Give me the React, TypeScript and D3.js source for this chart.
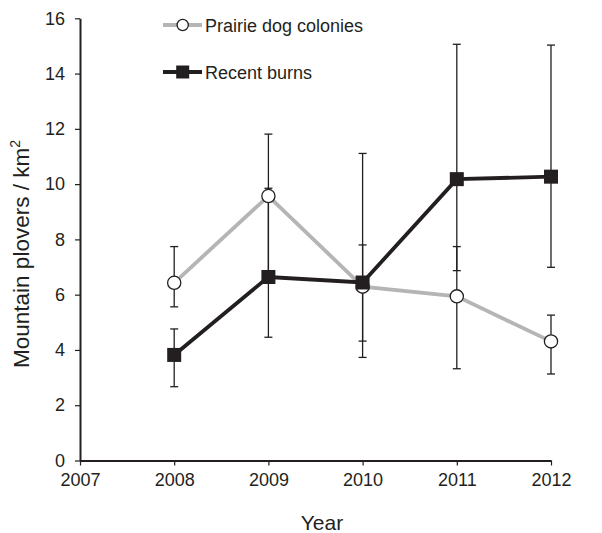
import React, { useEffect, useRef } from "react";
import * as d3 from "d3";

const years = [2008, 2009, 2010, 2011, 2012];
const prairie = [6.43, 9.57, 6.29, 5.94, 4.31];
const prairieUpper = [7.74, 11.81, 7.8, 7.74, 5.26];
const prairieLower = [5.56, 6.7, 4.32, 3.32, 3.13];
const burns = [3.82, 6.64, 6.44, 10.18, 10.27];
const burnsUpper = [4.76, 9.85, 11.11, 15.06, 15.03];
const burnsLower = [2.67, 4.46, 3.73, 6.87, 6.99];
const xTicks = [2007, 2008, 2009, 2010, 2011, 2012];
const yTicks = [0, 2, 4, 6, 8, 10, 12, 14, 16];
const seriesNames = ["Prairie dog colonies", "Recent burns"];

const W = 602;
const H = 533;
const FONT = "Arial, 'Liberation Sans', Helvetica, sans-serif";
const BLACK = "#231f20";
const GRAY = "#b5b5b5";

export default function App() {
  const ref = useRef<SVGSVGElement>(null);

  useEffect(() => {
    const svg = d3.select(ref.current);
    svg.selectAll("*").remove();

    const x = d3.scaleLinear().domain([2007, 2012]).range([80, 551]);
    const y = d3.scaleLinear().domain([0, 16]).range([460.5, 18.3]);

    // axes
    const gx = svg.append("g").attr("transform", `translate(0,${y(0)})`)
      .call(d3.axisBottom(x).tickValues(xTicks).tickFormat(d3.format("d")).tickSize(5).tickSizeOuter(0).tickPadding(8));
    const gy = svg.append("g").attr("transform", `translate(${x(2007)},0)`)
      .call(d3.axisLeft(y).tickValues(yTicks).tickSize(5).tickSizeOuter(0).tickPadding(10));
    [gx, gy].forEach((g) => {
      g.select(".domain").attr("stroke", BLACK).attr("stroke-width", 2);
      g.selectAll(".tick line").attr("stroke", BLACK).attr("stroke-width", 1.2);
      g.selectAll(".tick text").attr("fill", BLACK).attr("font-size", 18).attr("font-family", FONT);
    });

    // axis titles
    svg.append("text").attr("x", 322).attr("y", 530).attr("text-anchor", "middle")
      .attr("font-size", 21).attr("font-family", FONT).attr("fill", BLACK).text("Year");
    const yt = svg.append("text").attr("transform", "translate(29,254) rotate(-90)")
      .attr("text-anchor", "middle").attr("font-size", 22.5).attr("font-family", FONT).attr("fill", BLACK);
    yt.append("tspan").text("Mountain plovers / km");
    yt.append("tspan").attr("font-size", 14).attr("dy", -9).text("2");

    // error bars
    const cap = 4;
    const drawErr = (upper: number[], lower: number[]) => {
      years.forEach((yr, i) => {
        const cx = x(yr);
        svg.append("line").attr("x1", cx).attr("x2", cx).attr("y1", y(upper[i])).attr("y2", y(lower[i]))
          .attr("stroke", BLACK).attr("stroke-width", 1.3);
        [upper[i], lower[i]].forEach((v) => {
          svg.append("line").attr("x1", cx - cap).attr("x2", cx + cap).attr("y1", y(v)).attr("y2", y(v))
            .attr("stroke", BLACK).attr("stroke-width", 1.3);
        });
      });
    };
    drawErr(prairieUpper, prairieLower);
    drawErr(burnsUpper, burnsLower);

    const line = d3.line<number>().x((_, i) => x(years[i])).y((d) => y(d));
    svg.append("path").attr("d", line(prairie)).attr("fill", "none").attr("stroke", GRAY).attr("stroke-width", 3.8);
    svg.append("path").attr("d", line(burns)).attr("fill", "none").attr("stroke", BLACK).attr("stroke-width", 3.8);

    prairie.forEach((v, i) => {
      svg.append("circle").attr("cx", x(years[i])).attr("cy", y(v)).attr("r", 6.6)
        .attr("fill", "white").attr("stroke", BLACK).attr("stroke-width", 1.3);
    });
    const sq = 14;
    burns.forEach((v, i) => {
      svg.append("rect").attr("x", x(years[i]) - sq / 2).attr("y", y(v) - sq / 2).attr("width", sq).attr("height", sq)
        .attr("fill", BLACK);
    });

    // legend
    const lg = svg.append("g");
    lg.append("line").attr("x1", 163).attr("x2", 202).attr("y1", 25).attr("y2", 25).attr("stroke", GRAY).attr("stroke-width", 3.8);
    lg.append("circle").attr("cx", 182.7).attr("cy", 25).attr("r", 5.6).attr("fill", "white").attr("stroke", BLACK).attr("stroke-width", 1.3);
    lg.append("text").attr("x", 205).attr("y", 31.5).attr("font-size", 18).attr("font-family", FONT).attr("fill", BLACK).text(seriesNames[0]);
    lg.append("line").attr("x1", 163).attr("x2", 202).attr("y1", 72).attr("y2", 72).attr("stroke", BLACK).attr("stroke-width", 3.8);
    lg.append("rect").attr("x", 182.7 - 6.5).attr("y", 72 - 6.5).attr("width", 13).attr("height", 13).attr("fill", BLACK);
    lg.append("text").attr("x", 205).attr("y", 78.5).attr("font-size", 18).attr("font-family", FONT).attr("fill", BLACK).text(seriesNames[1]);
  }, []);

  return (
    <svg ref={ref} width={W} height={H}
      style={{ position: "absolute", left: 0, top: 0, background: "white", display: "block" }} />
  );
}
